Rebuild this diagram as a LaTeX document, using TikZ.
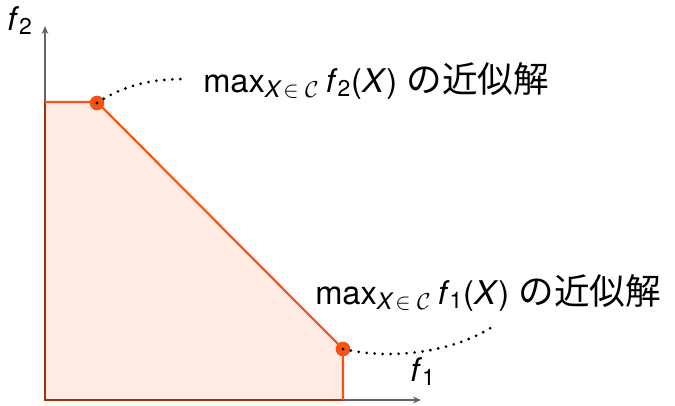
\documentclass[tikz,border=0pt]{standalone}
\usepackage{fontspec}
\setmainfont{TeX Gyre Heros}
\newfontfamily\cjk[Scale=1.09]{Noto Sans CJK JP}
\usetikzlibrary{arrows.meta}
\definecolor{pareto}{RGB}{250,82,20}
\definecolor{regionfill}{RGB}{255,235,227}
\definecolor{edgebrown}{RGB}{160,50,10}
\definecolor{axisgray}{RGB}{100,100,100}
\newcommand{\approxlbl}[1]{max\textsubscript{\textit{X}\kern1pt$\in\mathcal{C}$}\kern5pt\textit{f}\textsubscript{#1}(\textit{X})\kern7pt{\cjk の近似解}}
\tikzset{
  axisline/.style={draw=axisgray,line width=1.1pt,-{Stealth[length=6pt,width=5pt]}},
  frontier/.style={draw=pareto,line width=1.6pt},
  edgeline/.style={draw=edgebrown,line width=2.2pt},
  solpoint/.style={circle,fill=pareto,minimum size=11pt,inner sep=0pt},
  leader/.style={draw=black,line width=2.3pt,line cap=round,dash pattern=on 0pt off 6pt},
  lbl/.style={inner sep=0pt,font=\fontsize{24.5}{28}\selectfont},
}
\begin{document}
\begin{tikzpicture}[x=0.75pt,y=-0.75pt]
\useasboundingbox (0,0) rectangle (675,405);
% region
\fill[regionfill] (45,400) -- (45,102) -- (97,102) -- (343,349) -- (343,400) -- cycle;
% axes
\coordinate (o) at (45,400);
\coordinate (yend) at (45,26);
\coordinate (xend) at (421,400);
\draw[axisline] (o) -- (yend);
\draw[axisline] (o) -- (xend);
% edges on axes
\draw[edgeline] (45,102) -- (o) -- (343,400);
% frontier
\draw[frontier,line join=round] (45,102) -- (97,102) -- (343,349) -- (343,400);
% points
\node[solpoint] (p2) at (97,103) {};
\node[solpoint] (p1) at (343,349) {};
% labels
\node[lbl,anchor=base west] (t2) at (203,92) {\approxlbl{2}};
\node[lbl,anchor=base west] (t1) at (315,304) {\approxlbl{1}};
\node[lbl,anchor=base west] (f2) at (7,30) {\textit{f}\textsubscript{2}};
\node[lbl,anchor=base west] (f1) at (410,381) {\textit{f}\textsubscript{1}};
% leaders
\coordinate (e2) at (184,79);
\coordinate (e1) at (492,327);
\draw[leader] (p2.center) .. controls (125,84) and (155,79) .. (e2);
\draw[leader] (p1.center) .. controls (400,362) and (460,348) .. (e1);
\end{tikzpicture}
\end{document}
